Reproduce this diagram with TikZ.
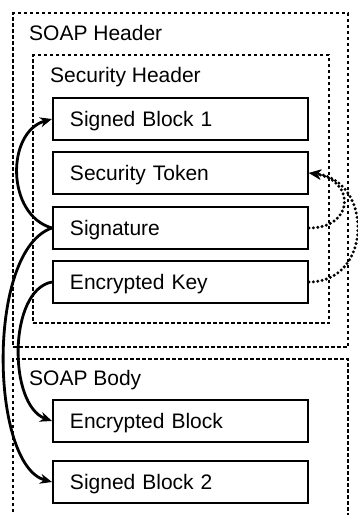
\documentclass[tikz,border=0pt]{standalone}
\usepackage{fontspec}
\setmainfont{Liberation Sans}
\usetikzlibrary{arrows.meta}
\begin{document}
\begin{tikzpicture}[x=1pt,y=-1pt,
  container/.style={draw, line width=1.7pt, dash pattern=on 3.5pt off 2.5pt},
  block/.style={draw, line width=2pt, minimum width=255pt, minimum height=42pt,
    text width=221pt, align=left, inner xsep=17pt, text height=15pt, text depth=0pt,
    font=\fontsize{21pt}{24pt}\selectfont},
  title/.style={anchor=base west, inner sep=0pt, font=\fontsize{21pt}{24pt}\selectfont},
  solidarrow/.style={line width=2.8pt, -{Stealth[length=12pt,width=10pt]}},
  dotarrow/.style={line width=3.3pt, dash pattern=on 0pt off 4.4pt, line cap=round,
    -{Stealth[length=12pt,width=10pt,line cap=butt]}}]
\useasboundingbox (0,0) rectangle (357,515);
\fill[white] (0,0) rectangle (357,515);
% containers
\node[container, minimum width=335pt, minimum height=334pt, inner sep=0pt] (soaphdr) at (180.5,180) {};
\node[title] (soaphdrlbl) at (29,40.5) {SOAP Header};
\node[container, minimum width=296pt, minimum height=268pt, inner sep=0pt] (sechdr) at (181,189) {};
\node[title] (sechdrlbl) at (50,82.5) {Security Header};
\draw[container] (13,530) -- (13,359) -- (348,359) -- (348,530);
\node[title] (bodylbl) at (29,385) {SOAP Body};
% blocks
\node[block] (sb1) at (180.5,119) {Signed Block 1};
\node[block] (tok) at (180.5,173) {Security Token};
\node[block] (sig) at (180.5,228) {Signature};
\node[block] (ek) at (180.5,282) {Encrypted Key};
\node[block] (eb) at (180.5,421) {Encrypted Block};
\node[block] (sb2) at (180.5,482) {Signed Block 2};
% solid arrows
\draw[solidarrow] (sig.west) .. controls (6,215) and (6,132) .. (sb1.west);
\draw[solidarrow] (sig.west) .. controls (-14,250) and (-10,465) .. (sb2.west);
\draw[solidarrow] (ek.west) .. controls (8,290) and (8,405) .. (eb.west);
% dotted arrows
\draw[dotarrow] (sig.east) .. controls (355,228) and (355,180) .. (tok.east);
\draw[dotarrow] (ek.east) .. controls (373,282) and (373,180) .. (tok.east);
\end{tikzpicture}
\end{document}
